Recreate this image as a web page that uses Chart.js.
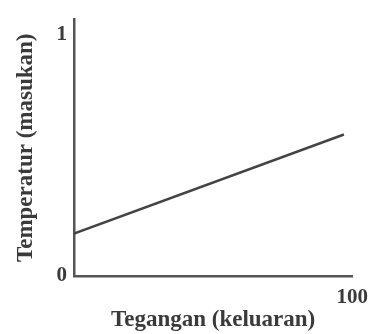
<!DOCTYPE html>
<html>
<head>
<meta charset="utf-8">
<script src="https://cdn.jsdelivr.net/npm/chart.js@4/dist/chart.umd.min.js"></script>
<style>
  html, body { margin: 0; padding: 0; background: #fff; }
  #wrap { width: 377px; height: 334px; }
</style>
</head>
<body>
<div id="wrap"><canvas id="chart"></canvas></div>
<script>
// data
const voltage = [0, 97];          // Tegangan (keluaran)
const temperature = [0.175, 0.585]; // Temperatur (masukan)
const xTicks = [100];
const yTicks = [0, 1];

const ink = '#3a3a3a';
const serif = '"Liberation Serif", "DejaVu Serif", serif';

const points = voltage.map((v, i) => ({ x: v, y: temperature[i] }));

new Chart(document.getElementById('chart'), {
    type: 'scatter',
    data: {
        datasets: [{
            data: points,
            showLine: true,
            borderColor: '#444',
            borderWidth: 2.5,
            pointRadius: 0,
            fill: false
        }]
    },
    options: {
        responsive: true,
        maintainAspectRatio: false,
        animation: false,
        layout: { padding: { top: 15, right: 22, left: 0, bottom: 0 } },
        plugins: { legend: { display: false }, tooltip: { enabled: false } },
        scales: {
            x: {
                type: 'linear',
                min: 0,
                max: 100,
                afterBuildTicks: s => { s.ticks = xTicks.map(v => ({ value: v })); },
                afterFit: s => { s.height = 58; },
                grid: { display: false, drawTicks: false },
                border: { display: true, color: '#555', width: 2.5 },
                ticks: { color: ink, padding: 9, font: { family: serif, size: 21, weight: 'bold' }, maxRotation: 0 },
                title: {
                    display: true,
                    text: 'Tegangan (keluaran)',
                    color: ink,
                    font: { family: serif, size: 23, weight: 'bold' },
                    padding: { top: 0, bottom: 0 }
                }
            },
            y: {
                type: 'linear',
                min: 0,
                max: 1.06,
                afterBuildTicks: s => { s.ticks = yTicks.map(v => ({ value: v })); },
                afterFit: s => { s.width = 74; },
                grid: { display: false, drawTicks: false },
                border: { display: true, color: '#555', width: 2.5 },
                ticks: { color: ink, padding: 7, font: { family: serif, size: 21, weight: 'bold' } },
                title: {
                    display: true,
                    text: 'Temperatur (masukan)',
                    color: ink,
                    font: { family: serif, size: 23, weight: 'bold' },
                    padding: { top: 12, bottom: 0 }
                }
            }
        }
    }
});
</script>
</body>
</html>
